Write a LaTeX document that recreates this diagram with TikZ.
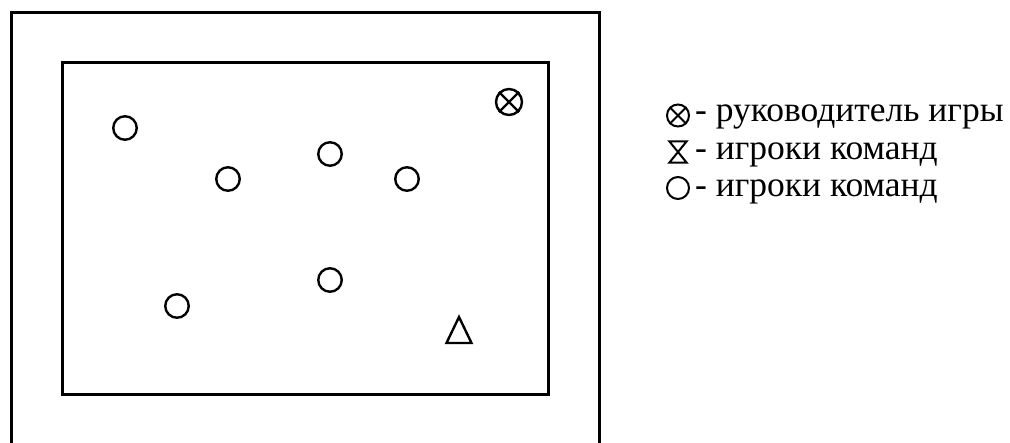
\documentclass[tikz,border=0pt]{standalone}
\usepackage{fontspec}
\setmainfont{Liberation Serif}

\begin{document}
\begin{tikzpicture}[x=1pt,y=-1pt,
        pl/.style={circle,draw,line width=2.4pt,minimum size=23.5pt,inner sep=0pt},
        lead/.style={pl,minimum size=26pt},
        sym/.style={line width=2pt},
        lbl/.style={anchor=base west,inner sep=0pt,font=\fontsize{35.5}{42}\selectfont}]
        \useasboundingbox (0,0) rectangle (1010,443);
        % площадка
        \draw[line width=3pt] (11,443) -- (11,13) -- (599,13) -- (599,443);
        \draw[line width=3pt] (62,63) rectangle (548,395);
        % игроки
        \node[pl] (p1) at (125,128) {};
        \node[pl] (p2) at (228,179) {};
        \node[pl] (p3) at (330,154) {};
        \node[pl] (p4) at (407,179) {};
        \node[pl] (p5) at (177,306) {};
        \node[pl] (p6) at (330,280) {};
        \node[lead] (rk) at (509,102) {};
        \draw[line width=2.2pt] (rk.north west) -- (rk.south east);
        \draw[line width=2.2pt] (rk.north east) -- (rk.south west);
        \coordinate (tr) at (459,330);
        \draw[line width=2.4pt,line join=miter] (tr) ++(0,-13) -- ++(12.5,26) -- ++(-25,0) -- cycle;
        % легенда
        \node[circle,draw,sym,minimum size=22pt,inner sep=0pt] (l1) at (678,115.5) {};
        \draw[sym] (l1.north west) -- (l1.south east);
        \draw[sym] (l1.north east) -- (l1.south west);
        \node[minimum width=17pt,minimum height=21pt,inner sep=0pt] (l2) at (678,152) {};
        \draw[sym,line join=miter] (l2.north west) -- (l2.north east) -- (l2.south west) -- (l2.south east) -- cycle;
        \node[circle,draw,sym,minimum size=22pt,inner sep=0pt] (l3) at (678,188) {};
        \node[lbl] (t1) at (695,122) {- руководитель игры};
        \node[lbl] (t2) at (695,160) {- игроки команд};
        \node[lbl] (t3) at (695,197) {- игроки команд};
      \end{tikzpicture}
\end{document}
